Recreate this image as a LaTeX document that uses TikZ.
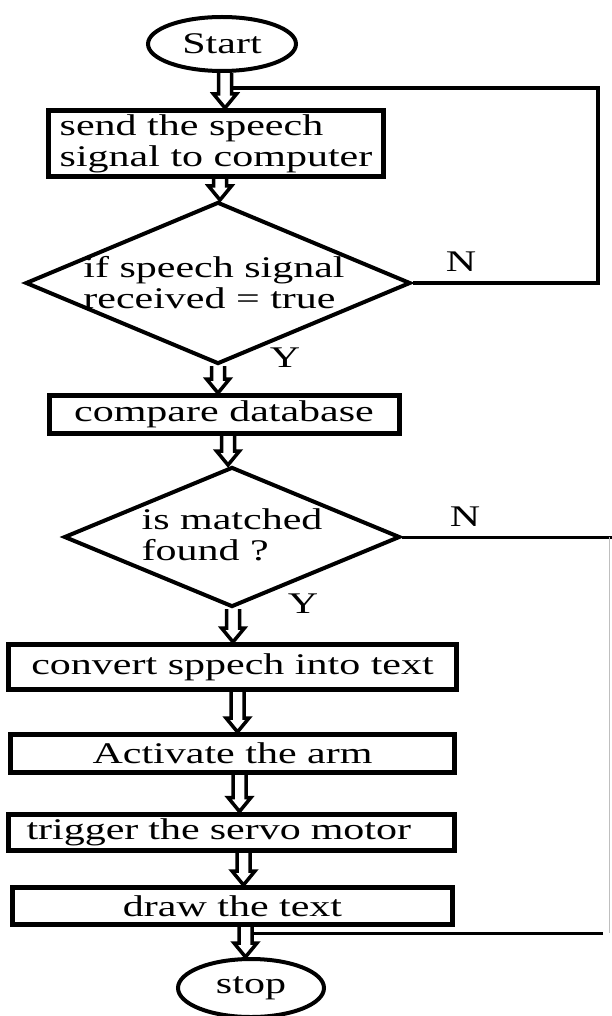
\documentclass[tikz,border=0pt]{standalone}
\usepackage{fontspec}
\setmainfont{Liberation Serif}[FakeStretch=1.4]
\usetikzlibrary{shapes.geometric,calc}
\pgfdeclarelayer{bg}
\pgfsetlayers{bg,main}
\tikzset{
  base/.style={font=\fontsize{30}{31}\selectfont, inner sep=0pt, text=black},
  procbox/.style={base, draw, line width=5pt, rectangle},
  decision/.style={draw, line width=4pt, diamond, inner sep=0pt},
  terminal/.style={base, draw, line width=4pt, ellipse},
  loopline/.style={line width=4pt},
  faintline/.style={line width=1.5pt, draw=black!25},
  lbl/.style={base},
  harrow/.style={line width=3.5pt, fill=white, line join=miter},
}
\newcommand\hollowarrow[3]{%
  \draw[harrow] let \p1=(#1), \p2=(#2) in
    (\x1+#3pt-6.5pt,\y1) -- (\x1+#3pt-6.5pt,\y2+14pt) -- (\x1+#3pt-11.5pt,\y2+14pt)
    -- (\x1+#3pt,\y2) -- (\x1+#3pt+11.5pt,\y2+14pt) -- (\x1+#3pt+6.5pt,\y2+14pt)
    -- (\x1+#3pt+6.5pt,\y1);}
\begin{document}
\begin{tikzpicture}[x=1pt,y=-1pt]
\useasboundingbox (0,0) rectangle (612,1016);

\node[terminal, minimum width=148pt, minimum height=54pt] (start) at (222,44) {Start};
\node[procbox, minimum width=335pt, minimum height=66pt, align=left] (box1) at (216,143.5)
  {send the speech\\signal to computer};
\node[decision, minimum width=385pt, minimum height=162pt] (dia1) at (218,283) {};
\node[base, align=left] (t1) at (214,283) {if speech signal\\received = true};
\node[procbox, minimum width=350pt, minimum height=38pt] (box2) at (224,414.5) {compare database};
\node[decision, minimum width=336pt, minimum height=140pt] (dia2) at (232,537) {};
\node[base, align=left] (t2) at (232,535) {is matched\\found ?};
\node[procbox, minimum width=448pt, minimum height=45pt] (box3) at (232.5,667) {convert sppech into text};
\node[procbox, minimum width=444pt, minimum height=38pt] (box4) at (232.5,753.5) {Activate the arm};
\node[procbox, minimum width=446pt, minimum height=36pt, text width=410pt, align=left] (box5) at (231.5,832) {trigger the servo motor};
\node[procbox, minimum width=440pt, minimum height=37pt] (box6) at (232.5,906) {draw the text};
\node[terminal, minimum width=146pt, minimum height=58pt] (stop) at (251,988) {stop};

\node[lbl] (n1) at (461,262) {N};
\node[lbl] (y1) at (285,358) {Y};
\node[lbl] (n2) at (465,517) {N};
\node[lbl] (y2) at (303,604) {Y};

\coordinate (c1) at (598,283);
\coordinate (c2) at (598,88);
\coordinate (j1) at (230,88);
\coordinate (r1) at (612,537);
\coordinate (r1b) at (609.5,537);
\coordinate (r2b) at (609.5,933);
\coordinate (r2) at (603,933);
\coordinate (j2) at (252,933);

\begin{pgfonlayer}{bg}
\hollowarrow{start.south}{box1.north}{3}
\hollowarrow{box1.south}{dia1.north}{4}
\hollowarrow{dia1.south}{box2.north}{0}
\hollowarrow{box2.south}{dia2.north}{4}
\hollowarrow{dia2.south}{box3.north}{1}
\hollowarrow{box3.south}{box4.north}{5}
\hollowarrow{box4.south}{box5.north}{7}
\hollowarrow{box5.south}{box6.north}{12}
\hollowarrow{box6.south}{stop.north}{13}
\end{pgfonlayer}

\draw[loopline] (dia1.east) -- (c1) -- (c2) -- (j1);
\draw[loopline, line width=3pt] (dia2.east) -- (r1);
\draw[faintline] (r1b) -- (r2b);
\draw[loopline, line width=3pt] (r2) -- (j2);
\end{tikzpicture}
\end{document}
